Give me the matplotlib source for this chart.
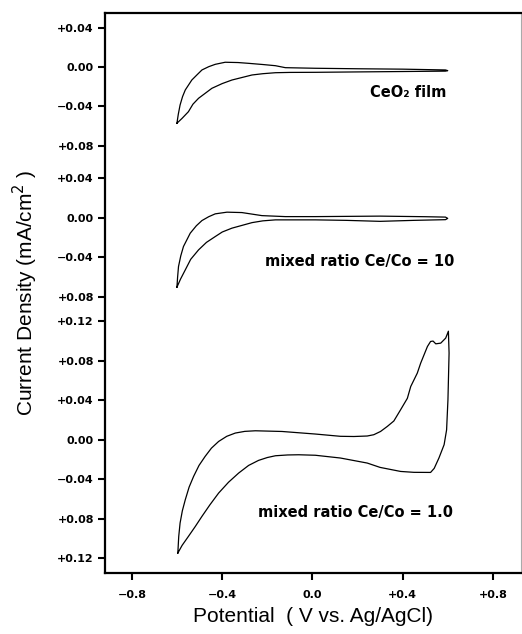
import matplotlib
matplotlib.use('Agg')
import matplotlib.pyplot as plt

# CeO2 film
ce_x = [-0.601, -0.595, -0.587, -0.576, -0.564, -0.535, -0.510, -0.490, -0.460, -0.431, -0.387,
        -0.330, -0.283, -0.220, -0.164, -0.120, 0.013, 0.2, 0.4, 0.59, 0.60,
        0.59, 0.4, 0.2, 0.013, -0.100, -0.164, -0.220, -0.268, -0.357, -0.400, -0.446,
        -0.505, -0.530, -0.550, -0.578, -0.601]
ce_y = [-0.057, -0.048, -0.0385, -0.0300, -0.0233, -0.0132, -0.0075, -0.0030, 0.0003, 0.0027, 0.0048,
        0.0045, 0.0037, 0.0025, 0.0013, -0.0007, -0.0013, -0.0018, -0.0022, -0.0030, -0.0037,
        -0.0042, -0.0046, -0.0050, -0.0054, -0.0055, -0.0058, -0.0068, -0.0081, -0.0132, -0.0168, -0.0216,
        -0.0317, -0.0377, -0.0453, -0.0520, -0.057]

# mixed ratio Ce/Co = 10
ce10_x = [-0.601, -0.598, -0.594, -0.584, -0.572, -0.542, -0.515, -0.490, -0.460, -0.431, -0.379,
          -0.313, -0.224, -0.120, 0.013, 0.3, 0.5, 0.59, 0.60,
          0.59, 0.45, 0.3, 0.15, 0.013, -0.164, -0.220, -0.268, -0.357, -0.400, -0.431,
          -0.470, -0.505, -0.540, -0.564, -0.585, -0.601]
ce10_y = [-0.0702, -0.060, -0.0493, -0.0385, -0.0290, -0.0155, -0.0080, -0.0027, 0.0012, 0.0041, 0.0058,
          0.0054, 0.0023, 0.0013, 0.0013, 0.0018, 0.0012, 0.0008, -0.0005,
          -0.0018, -0.0025, -0.0035, -0.0025, -0.0020, -0.0020, -0.0030, -0.0048, -0.0104, -0.0143, -0.0189,
          -0.0248, -0.0324, -0.0420, -0.0527, -0.0620, -0.0702]

# mixed ratio Ce/Co = 1.0
ce1_x = [-0.597, -0.593, -0.587, -0.577, -0.564, -0.547, -0.527, -0.503, -0.476, -0.448, -0.416,
         -0.380, -0.342, -0.300, -0.253, -0.135, 0.013,
         0.124, 0.184, 0.243, 0.272, 0.302, 0.332, 0.361, 0.391, 0.421, 0.436, 0.465, 0.480,
         0.510, 0.524, 0.535, 0.547, 0.569, 0.591, 0.603,
         0.606, 0.601, 0.595, 0.584, 0.561, 0.540, 0.524,
         0.45, 0.391, 0.3, 0.243, 0.124, 0.013, -0.061, -0.110, -0.164, -0.200, -0.239, -0.283,
         -0.327, -0.372, -0.416, -0.455, -0.490, -0.520, -0.550, -0.578, -0.597]
ce1_y = [-0.1148, -0.0980, -0.0844, -0.0720, -0.0608, -0.0480, -0.0371, -0.0260, -0.0169, -0.0085, -0.0017,
         0.0035, 0.0068, 0.0085, 0.0091, 0.0084, 0.0058,
         0.0035, 0.0033, 0.0038, 0.0051, 0.0084, 0.0135, 0.0190, 0.0304, 0.0420, 0.0540, 0.0675, 0.0776,
         0.0945, 0.0996, 0.1000, 0.0972, 0.0979, 0.1030, 0.1100,
         0.0878, 0.0405, 0.010, -0.0050, -0.0185, -0.0290, -0.0331,
         -0.0330, -0.0321, -0.0280, -0.0236, -0.0185, -0.0157, -0.0152, -0.0154, -0.0162, -0.0180, -0.0209, -0.0260,
         -0.0337, -0.0430, -0.0540, -0.0660, -0.0776, -0.0880, -0.0979, -0.1070, -0.1148]

labels = ['CeO\u2082 film', 'mixed ratio Ce/Co = 10', 'mixed ratio Ce/Co = 1.0']

# y ticks for each panel (value, printed text)
ticks_top = [(0.04, '+0.04'), (0.0, '0.00'), (-0.04, '\u22120.04'), (-0.08, '+0.08')]
ticks_mid = [(0.04, '+0.04'), (0.0, '0.00'), (-0.04, '\u22120.04'), (-0.08, '+0.08')]
ticks_bot = [(0.12, '+0.12'), (0.08, '+0.08'), (0.04, '+0.04'), (0.0, '0.00'),
             (-0.04, '\u22120.04'), (-0.08, '+0.08'), (-0.12, '+0.12')]
xticks = [-0.8, -0.4, 0.0, 0.4, 0.8]
xticklabels = ['\u22120.8', '\u22120.4', '0.0', '+0.4', '+0.8']

# vertical offsets of the stacked panels
off_top = 0.3777
off_mid = 0.2248
off_bot = 0.0

fig = plt.figure(figsize=(5.22, 6.34), dpi=100)
ax = fig.add_axes([105 / 522, 61 / 634, 416 / 522, 560 / 634])

ax.plot(ce_x, [v + off_top for v in ce_y], color='black', lw=0.9)
ax.plot(ce10_x, [v + off_mid for v in ce10_y], color='black', lw=0.9)
ax.plot(ce1_x, [v + off_bot for v in ce1_y], color='black', lw=0.9)

tfont = dict(family=['DejaVu Sans'], fontweight='bold', fontsize=10.5)
ax.text(0.424, 0.3514, labels[0], ha='center', va='center', **tfont)
ax.text(0.211, 0.1803, labels[1], ha='center', va='center', **tfont)
ax.text(0.191, -0.0739, labels[2], ha='center', va='center', **tfont)

ypos, ylab = [], []
for off, tk in [(off_top, ticks_top), (off_mid, ticks_mid), (off_bot, ticks_bot)]:
    for v, s in tk:
        ypos.append(v + off)
        ylab.append(s)
ax.set_yticks(ypos)
ax.set_yticklabels(ylab)
ax.set_xticks(xticks)
ax.set_xticklabels(xticklabels)
ax.set_xlim(-0.92, 0.925)
ax.set_ylim(-0.135, 0.4324)

ax.tick_params(direction='out', length=5, width=1.5, labelsize=8, pad=3)
ax.tick_params(axis='x', pad=7)
for lab in ax.get_xticklabels() + ax.get_yticklabels():
    lab.set_fontweight('bold')
    lab.set_family('DejaVu Sans')

for side in ['left', 'bottom', 'top']:
    ax.spines[side].set_linewidth(1.6)
ax.spines['right'].set_linewidth(0.8)
ax.spines['right'].set_color('#aaaaaa')

ax.set_xlabel('Potential  ( V vs. Ag/AgCl)', fontsize=15, family='Liberation Sans', labelpad=5)
ax.set_ylabel('Current Density (mA/cm$^{2}$ )', fontsize=15, family='Liberation Sans', labelpad=12)

plt.savefig('out.png', dpi=100)
